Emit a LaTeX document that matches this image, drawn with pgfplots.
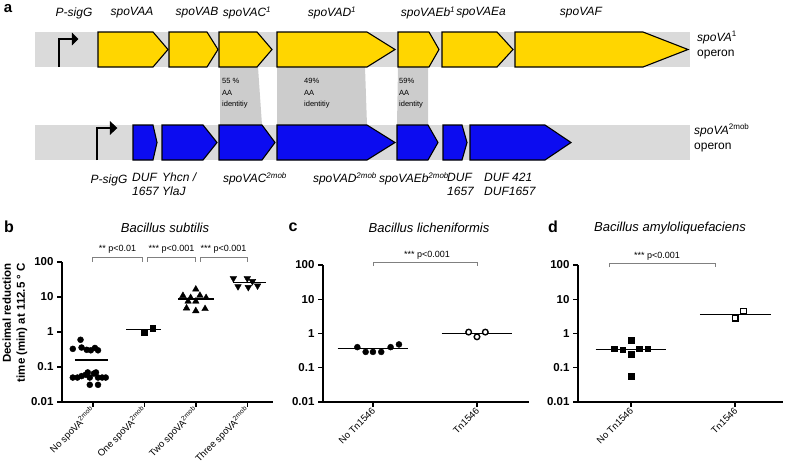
\documentclass[border=0pt]{standalone}
\usepackage{fontspec}
\setmainfont{Liberation Sans}
\usepackage{pgfplots}
\pgfplotsset{compat=1.18}

\definecolor{geneyellow}{RGB}{255,214,0}
\definecolor{geneblue}{RGB}{12,12,240}
\definecolor{bandgray}{RGB}{218,218,218}
\definecolor{identgray}{RGB}{204,204,204}

\tikzset{
  meanline/.style={black, line width=1.4pt},
  ygene/.style={fill=geneyellow, draw=black, line width=1.1pt},
  bgene/.style={fill=geneblue, draw=black, line width=1.1pt},
}
\newcommand{\pval}{\fontsize{9}{10}\selectfont}
\newcommand{\gl}{\fontsize{12}{14}\selectfont\itshape}

\begin{document}
\begin{tikzpicture}
% ---- canvas for panel a and shared text (pixel coordinates) ----
\begin{axis}[
  at={(0pt,0pt)}, anchor=south west,
  scale only axis, width=787pt, height=467pt,
  xmin=0, xmax=787, ymin=0, ymax=467, y dir=reverse,
  hide axis, clip=false,
]
% bands
\addplot[fill=bandgray, draw=none] coordinates {(35,32) (690,32) (690,67) (35,67)} -- cycle;
\addplot[fill=bandgray, draw=none] coordinates {(35,125) (690,125) (690,160) (35,160)} -- cycle;
% identity links
\addplot[fill=identgray, draw=none] coordinates {(220,67) (258,67) (262,125) (220,125)} -- cycle;
\addplot[fill=identgray, draw=none] coordinates {(277,67) (365,67) (367,125) (277,125)} -- cycle;
\addplot[fill=identgray, draw=none] coordinates {(398,67) (428,67) (428,125) (397,125)} -- cycle;
% spoVA1 genes
\addplot[ygene] coordinates {(98,32) (153,32) (168,49.5) (153,67) (98,67)} -- cycle;
\addplot[ygene] coordinates {(169,32) (207,32) (218,49.5) (207,67) (169,67)} -- cycle;
\addplot[ygene] coordinates {(219,32) (257,32) (272,49.5) (257,67) (219,67)} -- cycle;
\addplot[ygene] coordinates {(277,32) (367,32) (395,49.5) (367,67) (277,67)} -- cycle;
\addplot[ygene] coordinates {(398,32) (429,32) (439,49.5) (429,67) (398,67)} -- cycle;
\addplot[ygene] coordinates {(442,32) (497,32) (513,49.5) (497,67) (442,67)} -- cycle;
\addplot[ygene] coordinates {(515,32) (643,32) (688,49.5) (643,67) (515,67)} -- cycle;
% spoVA2mob genes
\addplot[bgene] coordinates {(133,125) (153,125) (157,142.5) (153,160) (133,160)} -- cycle;
\addplot[bgene] coordinates {(162,125) (203,125) (217,142.5) (203,160) (162,160)} -- cycle;
\addplot[bgene] coordinates {(219,125) (262,125) (275,142.5) (262,160) (219,160)} -- cycle;
\addplot[bgene] coordinates {(277,125) (367,125) (395,142.5) (367,160) (277,160)} -- cycle;
\addplot[bgene] coordinates {(397,125) (428,125) (438,142.5) (428,160) (397,160)} -- cycle;
\addplot[bgene] coordinates {(443,125) (462,125) (467,142.5) (462,160) (443,160)} -- cycle;
\addplot[bgene] coordinates {(470,125) (545,125) (571,142.5) (545,160) (470,160)} -- cycle;
% promoters
\addplot[black, line width=1.1pt] coordinates {(59,67) (59,39) (73,39)};
\addplot[fill=black, draw=black] coordinates {(72,33) (78,39) (72,45)} -- cycle;
\addplot[black, line width=1.1pt] coordinates {(97,160) (97,128) (111,128)};
\addplot[fill=black, draw=black] coordinates {(110,121.5) (117,128) (110,134.5)} -- cycle;

% panel a texts
\node[font=\fontsize{15}{16}\selectfont\bfseries] at (axis cs:8,9) {a};
\node[font=\gl] at (axis cs:74,13) {P-sigG};
\node[font=\gl] at (axis cs:132,13) {spoVAA};
\node[font=\gl] at (axis cs:197,13) {spoVAB};
\node[font=\gl] at (axis cs:247,13) {spoVAC\textsuperscript{1}};
\node[font=\gl] at (axis cs:332,13) {spoVAD\textsuperscript{1}};
\node[font=\gl] at (axis cs:428,13) {spoVAEb\textsuperscript{1}};
\node[font=\gl] at (axis cs:481,13) {spoVAEa};
\node[font=\gl] at (axis cs:581,13) {spoVAF};
\node[font=\fontsize{12}{15}\selectfont, anchor=west, align=left, inner sep=0pt] at (axis cs:697,45) {\textit{spoVA}\textsuperscript{1}\\operon};
\node[font=\fontsize{12}{15}\selectfont, anchor=west, align=left, inner sep=0pt] at (axis cs:694,138) {\textit{spoVA}\textsuperscript{2mob}\\operon};
\node[font=\fontsize{7.5}{11.7}\selectfont, anchor=north west, align=left, inner sep=0pt] at (axis cs:222,78) {55 \%\\AA\\identitiy};
\node[font=\fontsize{7.5}{11.7}\selectfont, anchor=north west, align=left, inner sep=0pt] at (axis cs:304,78) {49\%\\AA\\identitiy};
\node[font=\fontsize{7.5}{11.7}\selectfont, anchor=north west, align=left, inner sep=0pt] at (axis cs:399,78) {59\%\\AA\\identity};
\node[font=\gl] at (axis cs:109,180) {P-sigG};
\node[font=\gl, anchor=north west, align=left, inner sep=0pt] at (axis cs:132,173) {DUF\\1657};
\node[font=\gl, anchor=north west, align=left, inner sep=0pt] at (axis cs:162,173) {Yhcn /\\YlaJ};
\node[font=\gl] at (axis cs:255,179) {spoVAC\textsuperscript{2mob}};
\node[font=\gl] at (axis cs:345,179) {spoVAD\textsuperscript{2mob}};
\node[font=\gl] at (axis cs:414,179) {spoVAEb\textsuperscript{2mob}};
\node[font=\gl, anchor=north west, align=left, inner sep=0pt] at (axis cs:447,173) {DUF\\1657};
\node[font=\gl, anchor=north west, align=left, inner sep=0pt] at (axis cs:484,173) {DUF 421\\DUF1657};

% panel letters, titles, y label
\node[font=\fontsize{16}{17}\selectfont\bfseries] at (axis cs:9,227) {b};
\node[font=\fontsize{16}{17}\selectfont\bfseries] at (axis cs:293,227) {c};
\node[font=\fontsize{16}{17}\selectfont\bfseries] at (axis cs:553,227) {d};
\node[font=\fontsize{13}{15}\selectfont\itshape] at (axis cs:165,228) {Bacillus subtilis};
\node[font=\fontsize{13}{15}\selectfont\itshape] at (axis cs:429,228) {Bacillus licheniformis};
\node[font=\fontsize{13}{15}\selectfont\itshape] at (axis cs:670,228) {Bacillus amyloliquefaciens};
\node[font=\fontsize{11.5}{14}\selectfont\bfseries, rotate=90, align=right, anchor=east, inner sep=0pt] at (axis cs:15,263) {Decimal reduction\\time (min) at 112.5 ° C};
\end{axis}

% ---- panel b ----
\begin{axis}[
  at={(62pt,65pt)}, anchor=south west, scale only axis, width=211pt, height=140pt,
  clip=false, ymode=log, ymin=0.01, ymax=100,
  axis x line=bottom, axis y line=left, axis line style={-, line width=1.4pt},
  ytick={0.01,0.1,1,10,100},
  yticklabels={\textbf{0.01},\textbf{0.1},\textbf{1},\textbf{10},\textbf{100}},
  yminorticks=false, tick align=outside, major tick length=5pt,
  major tick style={black, line width=1.4pt},
  yticklabel style={font=\fontsize{11.5}{13}\selectfont},
  xticklabel style={rotate=45, anchor=east, font=\fontsize{9.5}{10}\selectfont, inner sep=1pt, yshift=-2pt},
  xmin=-0.6, xmax=3.5, xtick={0,1,2,3},
  xticklabels={No spoVA\textsuperscript{2mob}, One spoVA\textsuperscript{2mob}, Two spoVA\textsuperscript{2mob}, Three spoVA\textsuperscript{2mob}},
]
\addplot[only marks, mark=*, mark size=3pt, black] coordinates {
  (-0.24,0.60) (-0.39,0.33) (-0.22,0.36) (-0.12,0.31) (-0.04,0.30) (0.10,0.30) (0.04,0.35)
  (-0.39,0.05) (-0.30,0.05) (-0.22,0.055) (-0.14,0.06) (-0.06,0.05) (0.02,0.065)
  (0.10,0.05) (0.18,0.05) (0.25,0.05) (-0.10,0.07) (0.06,0.07)
  (-0.06,0.031) (0.10,0.031)
};
\addplot[meanline] coordinates {(-0.35,0.16) (0.30,0.16)};
\addplot[only marks, mark=square*, mark size=2.8pt, black] coordinates {(1.00,1.0) (1.16,1.27)};
\addplot[meanline] coordinates {(0.65,1.19) (1.33,1.19)};
\addplot[only marks, mark=triangle*, mark size=3.8pt, black] coordinates {
  (1.75,10.9) (2.00,16.6) (2.08,11.0) (2.20,9.5) (1.85,7.5) (2.00,7.5)
  (1.82,4.8) (2.00,4.0) (2.18,4.6) (1.90,9.5)
};
\addplot[meanline] coordinates {(1.65,8.8) (2.35,8.8)};
\addplot[only marks, mark=triangle*, mark size=3.8pt, mark options={rotate=180}, black] coordinates {
  (2.73,34) (3.00,34) (3.10,28) (2.82,20) (3.02,19) (3.20,21)
};
\addplot[meanline] coordinates {(2.73,25.7) (3.37,25.7)};
\draw[gray, line width=0.8pt] (axis cs:0,100) |- (axis cs:0.96,139) -- (axis cs:0.96,100);
\draw[gray, line width=0.8pt] (axis cs:1.06,100) |- (axis cs:2.0,139) -- (axis cs:2.0,100);
\draw[gray, line width=0.8pt] (axis cs:2.08,100) |- (axis cs:3.0,139) -- (axis cs:3.0,100);
\node[font=\pval, anchor=south, inner sep=0pt] at (axis cs:0.48,170) {** p<0.01};
\node[font=\pval, anchor=south, inner sep=0pt] at (axis cs:1.53,170) {*** p<0.001};
\node[font=\pval, anchor=south, inner sep=0pt] at (axis cs:2.54,170) {*** p<0.001};
\end{axis}

% ---- panel c ----
\begin{axis}[
  at={(323pt,65pt)}, anchor=south west, scale only axis, width=206pt, height=137pt,
  clip=false, ymode=log, ymin=0.01, ymax=100,
  axis x line=bottom, axis y line=left, axis line style={-, line width=1.4pt},
  ytick={0.01,0.1,1,10,100},
  yticklabels={\textbf{0.01},\textbf{0.1},\textbf{1},\textbf{10},\textbf{100}},
  yminorticks=false, tick align=outside, major tick length=5pt,
  major tick style={black, line width=1.4pt},
  yticklabel style={font=\fontsize{11.5}{13}\selectfont},
  xticklabel style={rotate=45, anchor=east, font=\fontsize{9.5}{10}\selectfont, inner sep=1pt, yshift=-2pt},
  xmin=-0.48, xmax=1.5, xtick={0,1},
  xticklabels={No Tn1546, Tn1546},
]
\addplot[only marks, mark=*, mark size=3pt, black] coordinates {
  (-0.15,0.40) (-0.07,0.29) (0.00,0.29) (0.08,0.29) (0.17,0.40) (0.25,0.48)
};
\addplot[meanline] coordinates {(-0.34,0.36) (0.34,0.36)};
\addplot[only marks, mark=*, mark size=2.8pt, mark options={fill=white, draw=black, line width=1.4pt}] coordinates {
  (0.92,1.1) (1.00,0.8) (1.08,1.1)
};
\addplot[meanline] coordinates {(0.66,1.0) (1.34,1.0)};
\draw[gray, line width=0.8pt] (axis cs:0,93) |- (axis cs:1,117) -- (axis cs:1,93);
\node[font=\pval, anchor=south, inner sep=0pt] at (axis cs:0.52,140) {*** p<0.001};
\end{axis}

% ---- panel d ----
\begin{axis}[
  at={(578pt,65pt)}, anchor=south west, scale only axis, width=205pt, height=137pt,
  clip=false, ymode=log, ymin=0.01, ymax=100,
  axis x line=bottom, axis y line=left, axis line style={-, line width=1.4pt},
  ytick={0.01,0.1,1,10,100},
  yticklabels={\textbf{0.01},\textbf{0.1},\textbf{1},\textbf{10},\textbf{100}},
  yminorticks=false, tick align=outside, major tick length=5pt,
  major tick style={black, line width=1.4pt},
  yticklabel style={font=\fontsize{11.5}{13}\selectfont},
  xticklabel style={rotate=45, anchor=east, font=\fontsize{9.5}{10}\selectfont, inner sep=1pt, yshift=-2pt},
  xmin=-0.51, xmax=1.46, xtick={0,1},
  xticklabels={No Tn1546, Tn1546},
]
\addplot[only marks, mark=square*, mark size=2.8pt, black] coordinates {
  (-0.16,0.36) (-0.08,0.34) (0.00,0.63) (0.00,0.25) (0.08,0.36) (0.16,0.36) (0.00,0.057)
};
\addplot[meanline] coordinates {(-0.34,0.34) (0.34,0.34)};
\addplot[only marks, mark=square*, mark size=2.8pt, mark options={fill=white, draw=black, line width=1.4pt}] coordinates {
  (1.00,2.8) (1.08,4.5)
};
\addplot[meanline] coordinates {(0.66,3.6) (1.34,3.6)};
\draw[gray, line width=0.8pt] (axis cs:-0.21,86) |- (axis cs:0.81,112) -- (axis cs:0.81,86);
\node[font=\pval, anchor=south, inner sep=0pt] at (axis cs:0.25,135) {*** p<0.001};
\end{axis}

\pgfresetboundingbox
\useasboundingbox (0pt,0pt) rectangle (787pt,467pt);
\end{tikzpicture}
\end{document}
